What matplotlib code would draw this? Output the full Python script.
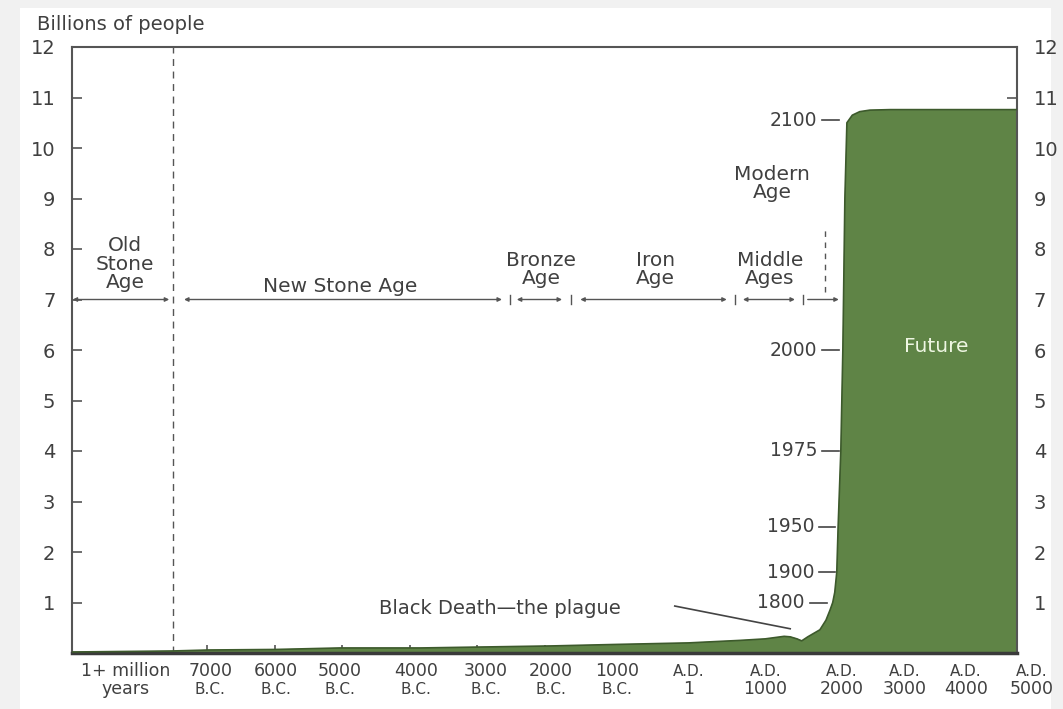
import numpy as np
import matplotlib.pyplot as plt
from matplotlib.patches import Rectangle

# x axis is in "slots": 7000 B.C. = 1 ... A.D. 5000 = 13, the 1+ million years span sits left of the dashed line
tick_top = ["1+ million", "7000", "6000", "5000", "4000", "3000", "2000", "1000",
            "A.D.", "A.D.", "A.D.", "A.D.", "A.D.", "A.D."]
tick_bottom = ["years", "B.C.", "B.C.", "B.C.", "B.C.", "B.C.", "B.C.", "B.C.",
               "1", "1000", "2000", "3000", "4000", "5000"]
tick_pos = [-0.2, 1.05, 2.02, 2.97, 4.1, 5.13, 6.1, 7.07, 8.13, 9.27, 10.41, 11.33, 12.24, 13.22]

# population curve (billions)
curve_x = [-1.0, 0.48, 1.04, 2.01, 2.97, 4.16, 5.13, 6.10, 7.07, 8.13, 8.90, 9.27, 9.55, 9.64,
           9.74, 9.81, 9.90, 10.08, 10.17, 10.23, 10.27, 10.30, 10.33, 10.35, 10.39, 10.42,
           10.45, 10.48, 10.56, 10.67, 10.82, 11.12, 13.0]
curve_pop = [0.02, 0.04, 0.06, 0.07, 0.10, 0.10, 0.12, 0.14, 0.17, 0.20, 0.25, 0.28, 0.33, 0.32,
             0.28, 0.24, 0.32, 0.46, 0.65, 0.85, 1.0, 1.2, 1.6, 2.5, 4.0, 6.0,
             9.0, 10.5, 10.65, 10.72, 10.75, 10.76, 10.76]

# year markers along the rise
marker_years = ["1800", "1900", "1950", "1975", "2000", "2100"]
marker_pop = [1.0, 1.6, 2.5, 4.0, 6.0, 10.55]

# ages along the y=7 line: (start, end)
ages = ["Old\nStone\nAge", "New Stone Age", "Bronze\nAge", "Iron\nAge", "Middle\nAges"]
age_start = [-0.99, 0.66, 5.59, 6.53, 8.94]
age_end = [0.44, 5.37, 6.26, 8.70, 9.71]

txt = '#404040'
green = '#5f8446'

fig = plt.figure(figsize=(10.63, 7.09), dpi=100, facecolor='#f1f1f1')
fig.patches.append(Rectangle((0.019, 0), 0.97, 0.989, transform=fig.transFigure,
                             facecolor='white', edgecolor='none', zorder=-10))
ax = fig.add_axes([72/1063, 1-653/709, (1017-72)/1063, (653-47)/709])
ax.set_facecolor('none')
ax.set_xlim(-1, 13)
ax.set_ylim(0, 12)

ax.fill_between(curve_x, 0, curve_pop, color=green, zorder=2)
ax.plot(curve_x, curve_pop, color='#3d5a2c', lw=1.2, zorder=3)

# dashed line separating old stone age
ax.axvline(0.5, color='#555555', lw=1, ls=(0, (5, 4)), zorder=1)
ax.plot([10.16, 10.16], [7.15, 8.4], color='#555555', lw=1, ls=(0, (4, 4)))

for i in range(len(ages)):
    ax.annotate('', xy=(age_start[i], 7), xytext=(age_end[i], 7),
                arrowprops=dict(arrowstyle='<|-|>', color='#555555', lw=1, mutation_scale=6,
                                shrinkA=0, shrinkB=0))
ax.annotate('', xy=(9.90, 7), xytext=(10.36, 7),
            arrowprops=dict(arrowstyle='<|-', color='#555555', lw=1, mutation_scale=6,
                            shrinkA=0, shrinkB=0))
for xs in [5.49, 6.39, 8.82, 9.83]:
    ax.plot([xs, xs], [6.92, 7.08], color='#555555', lw=1)

ax.text(-0.21, 7.7, ages[0], ha='center', va='center', fontsize=14.5, color=txt, linespacing=0.95)
ax.text(2.97, 7.26, ages[1], ha='center', va='center', fontsize=14.5, color=txt)
ax.text(5.95, 7.6, ages[2], ha='center', va='center', fontsize=14.5, color=txt, linespacing=0.95)
ax.text(7.64, 7.6, ages[3], ha='center', va='center', fontsize=14.5, color=txt, linespacing=0.95)
ax.text(9.34, 7.6, ages[4], ha='center', va='center', fontsize=14.5, color=txt, linespacing=0.95)
ax.text(9.37, 9.29, "Modern\nAge", ha='center', va='center', fontsize=14.5, color=txt, linespacing=0.95)
ax.text(11.81, 6.07, "Future", ha='center', va='center', fontsize=14.5, color='#eef6e2')

# year labels with leader dashes
for yr, p in zip(marker_years, marker_pop):
    if yr == "1800":
        ax.text(9.85, p, yr, ha='right', va='center', fontsize=13.5, color=txt)
        ax.plot([9.93, 10.18], [p, p], color='#444444', lw=1.2)
    elif yr in ("1900", "1950"):
        ax.text(10.0, p, yr, ha='right', va='center', fontsize=13.5, color=txt)
        ax.plot([10.06, 10.3], [p, p], color='#444444', lw=1.2)
    else:
        ax.text(10.04, p, yr, ha='right', va='center', fontsize=13.5, color=txt)
        ax.plot([10.11, 10.36], [p, p], color='#444444', lw=1.2)

ax.text(5.34, 0.89, "Black Death\u2014the plague", ha='center', va='center', fontsize=14, color=txt)
ax.plot([7.93, 9.64], [0.93, 0.48], color='#444444', lw=1.2)

# axes styling
for s in ['left', 'right', 'top']:
    ax.spines[s].set_color('#555555')
    ax.spines[s].set_linewidth(1.5)
ax.spines['bottom'].set_color('#3a3a3a')
ax.spines['bottom'].set_linewidth(2.5)

ax.set_yticks(range(1, 13))
ax.tick_params(axis='y', direction='in', length=7, width=1.2, color='#555555',
               labelsize=14, labelcolor=txt, left=True, right=True,
               labelleft=True, labelright=True, pad=12)
ax.set_xticks([1, 2, 3, 4, 5, 6, 7, 8, 9, 10, 11, 12])
ax.tick_params(axis='x', direction='in', length=6, width=1.2, color='#555555', labelbottom=False)

for i in range(len(tick_pos)):
    top_small = tick_top[i] == "A.D."
    bot_small = tick_bottom[i] == "B.C."
    ax.annotate(tick_top[i], xy=(tick_pos[i], 0), xycoords=('data', 'axes fraction'),
                xytext=(0, -13), textcoords='offset points', ha='center', va='center',
                fontsize=11 if top_small else 12.5, color=txt, annotation_clip=False)
    ax.annotate(tick_bottom[i], xy=(tick_pos[i], 0), xycoords=('data', 'axes fraction'),
                xytext=(0, -26), textcoords='offset points', ha='center', va='center',
                fontsize=11 if bot_small else 12.5, color=txt, annotation_clip=False)

fig.text(37/1063, 1-25/709, "Billions of people", ha='left', va='center', fontsize=14, color=txt)

fig.savefig('out.png', dpi=100, facecolor=fig.get_facecolor())
